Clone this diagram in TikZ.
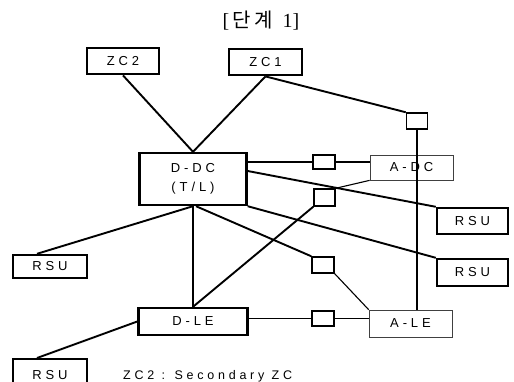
\documentclass[tikz,border=0pt]{standalone}
\usepackage{fontspec}
\newfontfamily\lab[LetterSpace=30]{Liberation Sans}
\newfontfamily\cjk{Noto Sans CJK KR}
\newfontfamily\ttl{Liberation Serif}
\begin{document}
\begin{tikzpicture}[x=1pt,y=-1pt,
  box/.style={draw,line width=2.4pt,inner sep=0pt,font=\lab\fontsize{13}{19}\selectfont,align=center},
  abox/.style={draw=black!75,line width=0.7pt,inner sep=0pt,font=\lab\fontsize{13}{19}\selectfont},
  sq/.style={draw,line width=1.5pt,inner sep=0pt},
  thick line/.style={line width=1.9pt},
  thin line/.style={line width=1.1pt}]
\useasboundingbox[fill=white] (0,0) rectangle (514,381);
\node (title) at (261,21) {\ttl\fontsize{20}{22}\selectfont [\,{\cjk\fontsize{20}{22}\selectfont 단\,계}\ \ 1]};
\node[box,line width=2.8pt,minimum width=72pt,minimum height=26pt] (zc2) at (123,61) {ZC2};
\node[box,line width=2.8pt,minimum width=73pt,minimum height=26pt] (zc1) at (265.5,62) {ZC1};
\node[sq,minimum width=21pt,minimum height=16pt] (sq1) at (417,121) {};
\node[box,minimum width=107pt,minimum height=52pt] (ddc) at (193,179) {D-DC\\(T/L)};
\node[sq,minimum width=22pt,minimum height=14pt] (sq2) at (324,162) {};
\node[abox,minimum width=83pt,minimum height=25pt] (adc) at (411.5,167.5) {A-DC};
\node[sq,minimum width=21pt,minimum height=17pt] (sq5) at (324.5,197.5) {};
\node[box,minimum width=71pt,minimum height=26pt] (rsu1) at (472.5,221) {RSU};
\node[box,minimum width=74pt,minimum height=23pt] (rsuL) at (50,266.5) {RSU};
\node[box,minimum width=71pt,minimum height=27pt] (rsu2) at (472.5,272.5) {RSU};
\node[sq,minimum width=22pt,minimum height=16pt] (sq3) at (323,265) {};
\node[box,minimum width=109pt,minimum height=27pt] (dle) at (193,321.5) {D-LE};
\node[sq,minimum width=22pt,minimum height=15pt] (sq4) at (323,318.5) {};
\node[abox,minimum width=83pt,minimum height=27pt] (ale) at (410.5,323.5) {A-LE};
\node[box,minimum width=74pt,minimum height=32pt,anchor=north] (rsuB) at (50,358) {RSU};
\node[anchor=base west,inner sep=0pt,font=\lab\fontsize{12.5}{14}\selectfont] (legend) at (123,379.5) {ZC2 : Secondary ZC};
% connectors
\draw[thick line] (zc2.south) -- (ddc.north);
\draw[thick line] (zc1.south) -- (ddc.north);
\draw[thick line] (zc1.south) -- (sq1.north west);
\draw[thin line] (sq1.south) -- (sq1.south |- ale.north);
\draw[thick line] (sq2.west -| ddc.east) -- (sq2.west);
\draw[thin line] (sq2.east) -- (sq2.east -| adc.west);
\draw[thick line] ([yshift=8pt]ddc.east) -- (rsu1.north west);
\draw[thin line] (adc.south west) -- (sq5.north east);
\draw[thick line] (sq5.south west) -- (dle.north);
\draw[thick line] (ddc.south) -- ([xshift=-13pt]rsuL.north);
\draw[thick line] (ddc.south) -- (ddc.south |- dle.north);
\draw[thick line] ([xshift=3pt]ddc.south) -- (sq3.north west);
\draw[thick line] (ddc.south east) -- (rsu2.north west);
\draw[thin line] (sq3.south east) -- (ale.north west);
\draw[thick line] (sq4.west -| dle.east) -- (sq4.west);
\draw[thin line] (sq4.east) -- (sq4.east -| ale.west);
\draw[thick line] (dle.west) -- ([xshift=-13pt]rsuB.north);
\end{tikzpicture}
\end{document}
